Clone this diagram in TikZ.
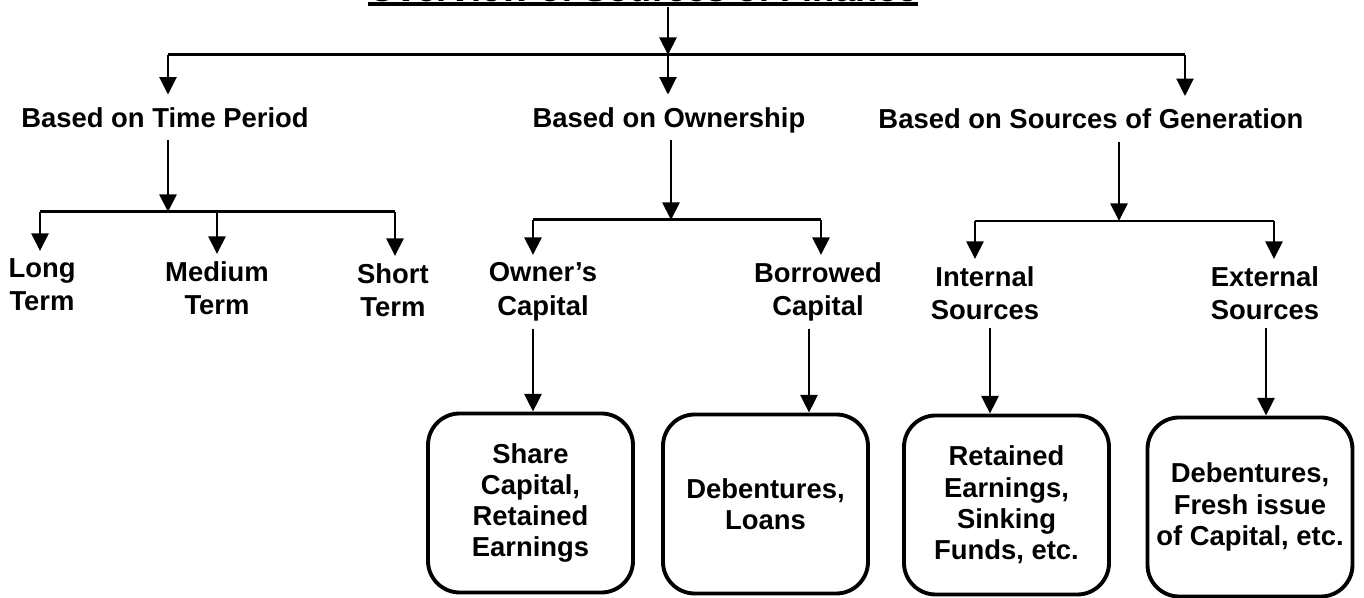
\documentclass[tikz,border=0pt]{standalone}
\usepackage{fontspec}
\setmainfont{Liberation Sans}
\usetikzlibrary{arrows.meta,positioning,calc}
\newcommand{\ulTitle}[1]{\setbox0\hbox{#1}\rlap{\rule[-1.3pt]{\wd0}{1.1pt}}\box0}
\tikzset{
  >={Triangle[length=5pt,width=4.8pt]},
  link/.style={line width=0.85pt},
  arrowLink/.style={link,->},
  titleLabel/.style={font=\bfseries\fontsize{10.3}{12}\selectfont,inner sep=0pt,anchor=base},
  headLabel/.style={font=\bfseries\fontsize{7.8}{9.2}\selectfont,inner xsep=0pt,inner ysep=3.5pt,text depth=0pt,anchor=base},
  leafLabel/.style={font=\bfseries\fontsize{7.8}{9.5}\selectfont,align=center,inner xsep=0pt,inner ysep=2pt,anchor=north},
  sourceBox/.style={draw,line width=1.1pt,rounded corners=9pt,minimum width=2.05cm,minimum height=1.79cm,
    align=center,inner sep=0pt,font=\bfseries\fontsize{7.8}{8.9}\selectfont},
}

\begin{document}
\begin{tikzpicture}
\useasboundingbox (0,0) rectangle (13.64,-5.98);

% ===== Title and main bus =====
\node[titleLabel] (title) at (6.43,-0.016) {\ulTitle{Overview of Sources of Finance}};
\coordinate (topBus) at (6.68,-0.55);
\coordinate (busL) at (1.68,-0.55);
\coordinate (busR) at (11.85,-0.55);
\draw[arrowLink] (title.south -| topBus) -- (topBus);
\draw[link] (busL) -- (busR);

% ===== Classification headings =====
\node[headLabel] (timeHead) at (1.65,-1.275) {Based on Time Period};
\node[headLabel] (ownHead) at (6.69,-1.275) {Based on Ownership};
\node[headLabel] (genHead) at (10.91,-1.29) {Based on Sources of Generation};
\draw[arrowLink] (busL) -- (busL |- timeHead.north);
\draw[arrowLink] (topBus) -- (topBus |- ownHead.north);
\draw[arrowLink] (busR) -- (busR |- genHead.north);

% ===== Based on time period =====
\coordinate (timeBus) at (1.68,-2.12);
\coordinate (timeL) at (0.40,-2.12);
\coordinate (timeM) at (2.17,-2.12);
\coordinate (timeR) at (3.95,-2.12);
\draw[arrowLink] (timeHead.south -| timeBus) -- (timeBus);
\draw[link] (timeL) -- (timeR);
\node[leafLabel] (longTerm) at (0.42,-2.51) {Long\\Term};
\node[leafLabel] (mediumTerm) at (2.17,-2.54) {Medium\\Term};
\node[leafLabel] (shortTerm) at (3.93,-2.56) {Short\\Term};
\foreach \c/\n in {timeL/longTerm,timeM/mediumTerm,timeR/shortTerm} {
  \draw[arrowLink] (\c) -- (\c |- \n.north);
}

% ===== Based on ownership =====
\coordinate (ownBus) at (6.71,-2.20);
\coordinate (ownL) at (5.33,-2.20);
\coordinate (ownR) at (8.21,-2.20);
\draw[arrowLink] (ownHead.south -| ownBus) -- (ownBus);
\draw[link] (ownL) -- (ownR);
\node[leafLabel] (ownerCap) at (5.43,-2.55) {Owner's\\Capital};
\node[leafLabel] (borrowCap) at (8.18,-2.55) {Borrowed\\Capital};
\draw[arrowLink] (ownL) -- (ownL |- ownerCap.north);
\draw[arrowLink] (ownR) -- (ownR |- borrowCap.north);

% ===== Based on sources of generation =====
\coordinate (genBus) at (11.19,-2.21);
\coordinate (genL) at (9.75,-2.21);
\coordinate (genR) at (12.74,-2.21);
\draw[arrowLink] (genHead.south -| genBus) -- (genBus);
\draw[link] (genL) -- (genR);
\node[leafLabel] (internalSrc) at (9.85,-2.59) {Internal\\Sources};
\node[leafLabel] (externalSrc) at (12.65,-2.59) {External\\Sources};
\draw[arrowLink] (genL) -- (genL |- internalSrc.north);
\draw[arrowLink] (genR) -- (genR |- externalSrc.north);

% ===== Example boxes =====
\node[sourceBox] (shareBox) at (5.305,-5.03) {Share\\Capital,\\Retained\\Earnings};
\node[sourceBox] (loanBox) at (7.655,-5.04) {Debentures,\\Loans};
\node[sourceBox] (internalBox) at (10.065,-5.05) {Retained\\Earnings,\\Sinking\\Funds, etc.};
\node[sourceBox] (externalBox) at (12.50,-5.07) {Debentures,\\Fresh issue\\of Capital, etc.};

\coordinate (dropA) at (5.33,0);
\coordinate (dropB) at (8.09,0);
\coordinate (dropC) at (9.90,0);
\coordinate (dropD) at (12.66,0);
\draw[arrowLink] (ownerCap.south -| dropA) -- (shareBox.north -| dropA);
\draw[arrowLink] (borrowCap.south -| dropB) -- (loanBox.north -| dropB);
\draw[arrowLink] (internalSrc.south -| dropC) -- (internalBox.north -| dropC);
\draw[arrowLink] (externalSrc.south -| dropD) -- (externalBox.north -| dropD);

\end{tikzpicture}
\end{document}
